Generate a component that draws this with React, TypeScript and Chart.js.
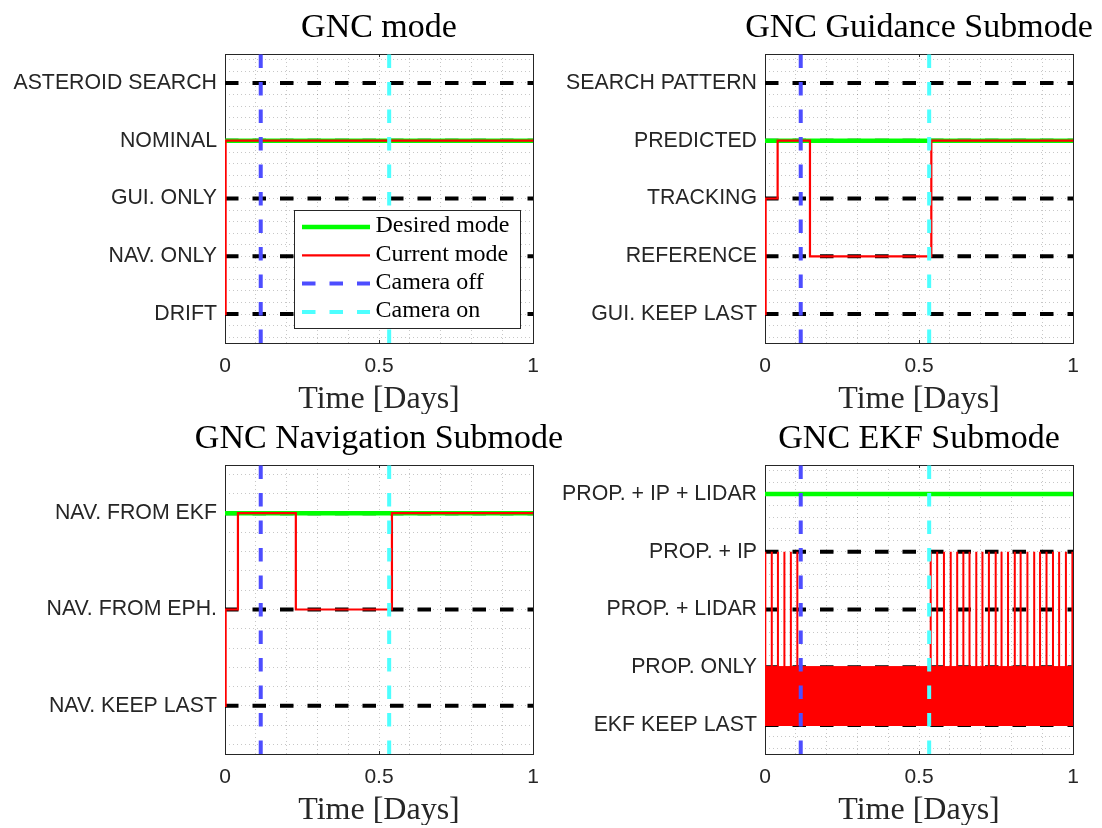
import React, { useEffect, useRef } from 'react';
import { Chart, registerables } from 'chart.js';

Chart.register(...registerables);

// ---------------- data ----------------
const timeTickLabels = [0, 0.5, 1];
const cameraOffTime = 0.116;
const cameraOnTime = 0.533;

const modeLabels = ['DRIFT', 'NAV. ONLY', 'GUI. ONLY', 'NOMINAL', 'ASTEROID SEARCH'];
const modeDesired = 4;
const modeTimes = [0, 0.002, 1];
const modeValues = [1, 4, 4];

const guiLabels = ['GUI. KEEP LAST', 'REFERENCE', 'TRACKING', 'PREDICTED', 'SEARCH PATTERN'];
const guiDesired = 4;
const guiTimes = [0, 0.002, 0.041, 0.146, 0.54, 1];
const guiValues = [1, 3, 4, 2, 4, 4];

const navLabels = ['NAV. KEEP LAST', 'NAV. FROM EPH.', 'NAV. FROM EKF'];
const navDesired = 3;
const navTimes = [0, 0.002, 0.042, 0.23, 0.542, 1];
const navValues = [1, 2, 3, 2, 3, 3];

const ekfLabels = ['EKF KEEP LAST', 'PROP. ONLY', 'PROP. + LIDAR', 'PROP. + IP', 'PROP. + IP + LIDAR'];
const ekfDesired = 5;
// current mode toggles too fast to resolve between these two levels
const ekfFastSwitchLevels = [1, 2];
const ekfSpikeLevel = 4;
const ekfSpikeTimes = [
  0.001, 0.022, 0.042, 0.063, 0.084, 0.105,
  0.538, 0.559, 0.581, 0.603, 0.624, 0.644, 0.664, 0.686, 0.706, 0.727, 0.749, 0.768,
  0.789, 0.811, 0.83, 0.852, 0.874, 0.893, 0.914, 0.935, 0.955, 0.977, 0.998,
];

// ---------------- styles ----------------
const GREEN = '#00ff00';
const RED = '#ff0000';
const BLUE = 'rgb(77,77,255)';
const CYAN = 'rgb(77,255,255)';
const AXIS = '#262626';
const DASH = [13.5, 14];
const SANS = "'Liberation Sans', Arial, sans-serif";
const SERIF = "'Liberation Serif', 'Times New Roman', serif";

const CANVAS_H = 414;
const AREA_LEFT = 225;
const AREA_RIGHT = 533;
const AREA_TOP = 54;
const AREA_BOTTOM = 343;

type Panel = {
  title: string;
  labels: string[];
  desired: number;
  times?: number[];
  values?: number[];
  ekf?: boolean;
  legend?: boolean;
  left: number;
  top: number;
  width: number;
};

const panels: Panel[] = [
  { title: 'GNC mode', labels: modeLabels, desired: modeDesired, times: modeTimes, values: modeValues, legend: true, left: 0, top: 0, width: 600 },
  { title: 'GNC Guidance Submode', labels: guiLabels, desired: guiDesired, times: guiTimes, values: guiValues, left: 540, top: 0, width: 562 },
  { title: 'GNC Navigation Submode', labels: navLabels, desired: navDesired, times: navTimes, values: navValues, left: 0, top: 411, width: 600 },
  { title: 'GNC EKF Submode', labels: ekfLabels, desired: ekfDesired, ekf: true, left: 540, top: 411, width: 562 },
];

const round = (v: number) => Math.round(v * 1000) / 1000;

function buildDatasets(p: Panel) {
  const n = p.labels.length;
  const yMin = 0.5;
  const yMax = n + 0.5;
  const ds: any[] = [];
  p.labels.forEach((_, i) => {
    ds.push({
      label: '_level' + i,
      data: [{ x: 0, y: i + 1 }, { x: 1, y: i + 1 }],
      borderColor: '#000',
      borderWidth: 4,
      borderDash: DASH,
      order: 20,
    });
  });
  ds.push({
    label: 'Desired mode',
    legendRank: 0,
    data: [{ x: 0, y: p.desired }, { x: 1, y: p.desired }],
    borderColor: GREEN,
    borderWidth: 4.5,
    order: 10,
  });
  if (p.ekf) {
    const [low, high] = ekfFastSwitchLevels;
    ds.push({
      label: '_bandHigh',
      data: [{ x: 0, y: high }, { x: 1, y: high }],
      borderColor: RED,
      backgroundColor: RED,
      borderWidth: 2,
      fill: { value: low },
      order: 8,
    });
    ds.push({
      label: '_bandLow',
      data: [{ x: 0, y: low }, { x: 1, y: low }],
      borderColor: RED,
      borderWidth: 2,
      order: 8,
    });
    const spikes: { x: number; y: number }[] = [];
    ekfSpikeTimes.forEach((t) => {
      spikes.push({ x: t, y: high }, { x: t, y: ekfSpikeLevel }, { x: t, y: high });
    });
    ds.push({
      label: 'Current mode',
      legendRank: 1,
      data: spikes,
      borderColor: RED,
      borderWidth: 2,
      order: 7,
    });
  } else {
    ds.push({
      label: 'Current mode',
      legendRank: 1,
      data: (p.times || []).map((t, i) => ({ x: t, y: (p.values || [])[i] })),
      stepped: 'before',
      borderColor: RED,
      borderWidth: 2.2,
      order: 7,
    });
  }
  ds.push({
    label: 'Camera off',
    legendRank: 2,
    data: [{ x: cameraOffTime, y: yMin }, { x: cameraOffTime, y: yMax }],
    borderColor: BLUE,
    borderWidth: 4,
    borderDash: DASH,
    order: 2,
  });
  ds.push({
    label: 'Camera on',
    legendRank: 3,
    data: [{ x: cameraOnTime, y: yMin }, { x: cameraOnTime, y: yMax }],
    borderColor: CYAN,
    borderWidth: 4,
    borderDash: DASH,
    order: 1,
  });
  return ds;
}

function makeDecor(p: Panel) {
  return {
    id: 'panelDecor',
    beforeDatasetsDraw(chart: any) {
      const { ctx, chartArea: a } = chart;
      const xs = chart.scales.x;
      const ys = chart.scales.y;
      ctx.save();
      ctx.strokeStyle = AXIS;
      ctx.lineWidth = 1;
      ctx.setLineDash([]);
      ctx.strokeRect(Math.round(a.left) + 0.5, Math.round(a.top) + 0.5, Math.round(a.right - a.left), Math.round(a.bottom - a.top));
      ctx.beginPath();
      timeTickLabels.forEach((v) => {
        const px = Math.round(xs.getPixelForValue(v)) + 0.5;
        ctx.moveTo(px, a.top);
        ctx.lineTo(px, a.top + 3);
        ctx.moveTo(px, a.bottom);
        ctx.lineTo(px, a.bottom - 3);
      });
      p.labels.forEach((_, i) => {
        const py = Math.round(ys.getPixelForValue(i + 1)) + 0.5;
        ctx.moveTo(a.left, py);
        ctx.lineTo(a.left + 3, py);
        ctx.moveTo(a.right, py);
        ctx.lineTo(a.right - 3, py);
      });
      ctx.stroke();
      ctx.restore();
    },
    afterDraw(chart: any) {
      const { ctx, chartArea: a } = chart;
      ctx.save();
      ctx.font = `34px ${SERIF}`;
      ctx.fillStyle = '#000';
      ctx.textAlign = 'center';
      ctx.textBaseline = 'alphabetic';
      ctx.fillText(p.title, (a.left + a.right) / 2, a.top - 17);

      if (p.legend) {
        const items = chart.data.datasets
          .filter((d: any) => typeof d.legendRank === 'number')
          .sort((u: any, v: any) => u.legendRank - v.legendRank);
        const x0 = Math.round(a.left + 69) + 0.5;
        const y0 = Math.round(a.top + 156) + 0.5;
        const w = 226;
        const h = 118;
        ctx.fillStyle = '#fff';
        ctx.fillRect(x0, y0, w, h);
        ctx.strokeStyle = AXIS;
        ctx.lineWidth = 1;
        ctx.setLineDash([]);
        ctx.strokeRect(x0, y0, w, h);
        items.forEach((d: any, i: number) => {
          const y = y0 + 16.5 + i * 28.3;
          ctx.beginPath();
          ctx.setLineDash(d.borderDash || []);
          ctx.lineWidth = d.borderWidth;
          ctx.strokeStyle = d.borderColor;
          ctx.lineCap = 'butt';
          ctx.moveTo(x0 + 7.5, y);
          ctx.lineTo(x0 + 75.5, y);
          ctx.stroke();
          ctx.setLineDash([]);
          ctx.fillStyle = '#000';
          ctx.font = `24px ${SERIF}`;
          ctx.textAlign = 'left';
          ctx.textBaseline = 'middle';
          ctx.fillText(d.label, x0 + 81, y - 1);
        });
      }
      ctx.restore();
    },
  };
}

function buildConfig(p: Panel): any {
  const n = p.labels.length;
  const xGrid = Array.from({ length: 11 }, (_, i) => round(i * 0.1));
  const yGrid: number[] = [];
  for (let v = 0.6; v < n + 0.5 - 1e-6; v += 0.2) yGrid.push(round(v));
  const gridColor = 'rgba(0,0,0,0.22)';

  return {
    type: 'line',
    data: { datasets: buildDatasets(p) },
    options: {
      responsive: false,
      animation: false,
      events: [],
      layout: { padding: { left: 0, top: AREA_TOP, right: p.width - AREA_RIGHT, bottom: 0 } },
      elements: { point: { radius: 0 }, line: { tension: 0 } },
      plugins: {
        legend: { display: false },
        tooltip: { enabled: false },
        title: { display: false },
      },
      scales: {
        x: {
          type: 'linear',
          min: 0,
          max: 1,
          afterBuildTicks: (axis: any) => {
            axis.ticks = xGrid.map((v) => ({ value: v }));
          },
          afterFit: (scale: any) => {
            scale.height = CANVAS_H - AREA_BOTTOM;
          },
          ticks: {
            autoSkip: false,
            maxRotation: 0,
            padding: 11,
            color: AXIS,
            font: { family: SANS, size: 21, lineHeight: 1.2 },
            callback: (value: number) => {
              const v = round(value);
              return timeTickLabels.includes(v) ? String(v) : '';
            },
          },
          grid: { color: gridColor, lineWidth: 1, drawTicks: false },
          border: { display: false, dash: [1, 3] },
          title: {
            display: true,
            text: 'Time [Days]',
            color: AXIS,
            font: { family: SERIF, size: 32, lineHeight: 0.875 },
            padding: { top: 0, bottom: 0 },
          },
        },
        y: {
          type: 'linear',
          min: 0.5,
          max: n + 0.5,
          afterBuildTicks: (axis: any) => {
            axis.ticks = yGrid.map((v) => ({ value: v }));
          },
          afterFit: (scale: any) => {
            scale.width = AREA_LEFT;
          },
          ticks: {
            autoSkip: false,
            padding: 8,
            color: AXIS,
            font: { family: SANS, size: 21.3, lineHeight: 1.2 },
            callback: (value: number) => {
              const r = Math.round(value);
              return Math.abs(value - r) < 1e-6 && r >= 1 && r <= n ? p.labels[r - 1] : '';
            },
          },
          grid: { color: gridColor, lineWidth: 1, drawTicks: false },
          border: { display: false, dash: [1, 3] },
        },
      },
    },
    plugins: [makeDecor(p)],
  };
}

function PanelChart({ panel }: { panel: Panel }) {
  const ref = useRef<HTMLCanvasElement>(null);
  useEffect(() => {
    if (!ref.current) return;
    const chart = new Chart(ref.current, buildConfig(panel));
    return () => chart.destroy();
  }, [panel]);
  return (
    <canvas
      ref={ref}
      width={panel.width}
      height={CANVAS_H}
      style={{ position: 'absolute', left: panel.left, top: panel.top, width: panel.width, height: CANVAS_H }}
    />
  );
}

export default function App() {
  return (
    <div
      style={{
        position: 'absolute',
        left: 0,
        top: 0,
        width: 1102,
        height: 828,
        overflow: 'hidden',
        background: '#fff',
      }}
    >
      {panels.map((p) => (
        <PanelChart key={p.title} panel={p} />
      ))}
    </div>
  );
}
